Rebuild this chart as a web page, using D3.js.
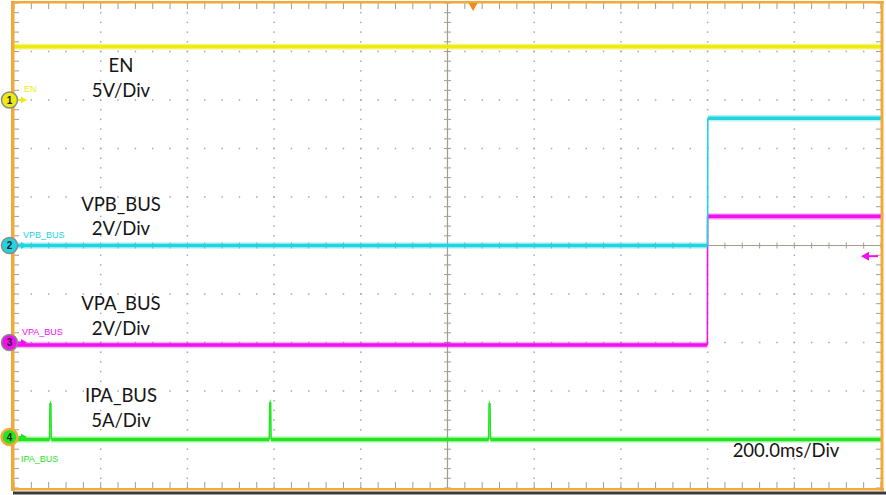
<!DOCTYPE html>
<html lang="en">
<head>
<meta charset="utf-8">
<script src="https://d3js.org/d3.v7.min.js"></script>
<style>
  html, body { margin: 0; padding: 0; background: #fff; }
  svg { display: block; }
  .note { font-family: Lato, "Open Sans", sans-serif; font-size: 18.5px; fill: #151515; }
  .chlabel { font-family: "Liberation Sans", Arial, sans-serif; font-size: 9px; }
</style>
</head>
<body>
<div id="container"></div>
<script>
// --- scope settings / data ---
const timeDomain = [0, 2000];          // ms, 10 div x 200 ms
const divDomain = [-5, 5];             // vertical divisions
const channelNames = ["EN", "VPB_BUS", "VPA_BUS", "IPA_BUS"];
const channelScaleText = ["5V/Div", "2V/Div", "2V/Div", "5A/Div"];
const unitsPerDiv = [5, 2, 2, 5];
const channelOffsetDiv = [3, 0, -2, -3.95];
const channelColors = ["#ecec12", "#22d4e2", "#f010f0", "#22e622"];
const timebaseText = "200.0ms/Div";

// traces: time (ms) and value (V or A)
const enTime = [0, 2000];
const enValue = [5.5, 5.5];
const vpbTime = [0, 1600, 1600.5, 2000];
const vpbValue = [0, 0, 5.25, 5.25];
const vpaTime = [0, 1599.5, 1600, 2000];
const vpaValue = [-0.1, -0.1, 5.2, 5.2];
const ipaTime = [0, 82, 83, 85, 86, 589, 590, 592, 593, 1095, 1096, 1098, 1099, 2000];
const ipaValue = [-0.25, -0.25, 3.5, 3.5, -0.25, -0.25, 3.6, 3.6, -0.25, -0.25, 3.5, 3.5, -0.25, -0.25];
const triggerTime = 1059;              // ms, orange marker at top
const triggerLevelDiv = -0.22;         // right edge arrow

const width = 886, height = 495;
const plotLeft = 14, plotRight = 881, plotTop = 3, plotBottom = 488;

const svg = d3.select("#container").append("svg")
    .attr("width", width).attr("height", height);

const x = d3.scaleLinear().domain(timeDomain).range([plotLeft, plotRight]);
const yDiv = d3.scaleLinear().domain(divDomain).range([plotBottom, plotTop]);

const majorX = d3.range(0, 2001, 200);
const minorX = d3.range(0, 2000.1, 40);
const majorY = d3.range(-5, 5.01, 1);
const minorY = d3.range(-5, 5.001, 0.2);
const gridCol = "#a8a8a8";
const axisCol = "#a39c8c";

// dotted grid
const grid = svg.append("g");
majorX.slice(1, -1).filter(t => t !== 1000).forEach(t => {
    grid.selectAll(null).data(minorY).enter().append("rect")
        .attr("x", x(t) - 0.75).attr("y", d => yDiv(d) - 0.75)
        .attr("width", 1.5).attr("height", 1.5).attr("fill", gridCol);
});
majorY.slice(1, -1).filter(d => Math.abs(d) > 1e-9).forEach(v => {
    grid.selectAll(null).data(minorX).enter().append("rect")
        .attr("x", d => x(d) - 0.75).attr("y", yDiv(v) - 0.75)
        .attr("width", 1.5).attr("height", 1.5).attr("fill", gridCol);
});

// center axes with ticks
grid.append("line").attr("x1", x(1000)).attr("x2", x(1000)).attr("y1", plotTop).attr("y2", plotBottom)
    .attr("stroke", axisCol).attr("stroke-width", 1.2);
grid.append("line").attr("x1", plotLeft).attr("x2", plotRight).attr("y1", yDiv(0)).attr("y2", yDiv(0))
    .attr("stroke", axisCol).attr("stroke-width", 1.2);
grid.selectAll(null).data(minorY).enter().append("line")
    .attr("x1", x(1000) - 3.5).attr("x2", x(1000) + 3.5)
    .attr("y1", d => yDiv(d)).attr("y2", d => yDiv(d))
    .attr("stroke", axisCol).attr("stroke-width", 1);
grid.selectAll(null).data(minorX).enter().append("line")
    .attr("y1", yDiv(0) - 3).attr("y2", yDiv(0) + 3)
    .attr("x1", d => x(d)).attr("x2", d => x(d))
    .attr("stroke", axisCol).attr("stroke-width", 1);

// edge ticks
grid.selectAll(null).data(minorX).enter().append("line")
    .attr("x1", d => x(d)).attr("x2", d => x(d)).attr("y1", plotTop).attr("y2", plotTop + 6)
    .attr("stroke", axisCol).attr("stroke-width", 1);
grid.selectAll(null).data(minorX).enter().append("line")
    .attr("x1", d => x(d)).attr("x2", d => x(d)).attr("y1", plotBottom).attr("y2", plotBottom - 6)
    .attr("stroke", axisCol).attr("stroke-width", 1);
grid.selectAll(null).data(minorY).enter().append("line")
    .attr("x1", plotLeft).attr("x2", plotLeft + 5).attr("y1", d => yDiv(d)).attr("y2", d => yDiv(d))
    .attr("stroke", axisCol).attr("stroke-width", 1);
grid.selectAll(null).data(minorY).enter().append("line")
    .attr("x1", plotRight).attr("x2", plotRight - 5).attr("y1", d => yDiv(d)).attr("y2", d => yDiv(d))
    .attr("stroke", axisCol).attr("stroke-width", 1);

// traces
const traces = [
    {t: enTime, v: enValue, ch: 0},
    {t: ipaTime, v: ipaValue, ch: 3},
    {t: vpaTime, v: vpaValue, ch: 2},
    {t: vpbTime, v: vpbValue, ch: 1}
];
const traceG = svg.append("g");
traces.forEach(tr => {
    const pts = tr.t.map((t, i) => [x(t), yDiv(channelOffsetDiv[tr.ch] + tr.v[i] / unitsPerDiv[tr.ch])]);
    const segs = d3.pairs(pts);
    const col = channelColors[tr.ch];
    // fuzzy halo on flat parts
    traceG.selectAll(null).data(segs.filter(s => Math.abs(s[1][1] - s[0][1]) < 2)).enter().append("line")
        .attr("x1", d => d[0][0]).attr("y1", d => d[0][1]).attr("x2", d => d[1][0]).attr("y2", d => d[1][1])
        .attr("stroke", col).attr("stroke-width", 6.5).attr("stroke-opacity", 0.3);
    traceG.selectAll(null).data(segs).enter().append("line")
        .attr("x1", d => d[0][0]).attr("y1", d => d[0][1]).attr("x2", d => d[1][0]).attr("y2", d => d[1][1])
        .attr("stroke", col)
        .attr("stroke-width", d => Math.abs(d[1][1] - d[0][1]) < 2 ? 3.6 : 1.6);
});

// frame
const orange = "#f5a83a";
svg.append("rect").attr("x", 11).attr("y", 1).attr("width", 3.5).attr("height", 490).attr("fill", orange);
svg.append("rect").attr("x", 11).attr("y", 1).attr("width", 873).attr("height", 2.5).attr("fill", orange);
svg.append("rect").attr("x", 880.5).attr("y", 1).attr("width", 3).attr("height", 490).attr("fill", orange);
svg.append("rect").attr("x", 11).attr("y", 488).attr("width", 873).attr("height", 2.5).attr("fill", orange);
svg.append("rect").attr("x", 13).attr("y", 491.5).attr("width", 873).attr("height", 3).attr("fill", "#3a3a3a");

// trigger markers
const tx = x(triggerTime);
svg.append("path").attr("d", `M${tx - 4.5},3 L${tx + 4.5},3 L${tx},11 Z`).attr("fill", "#f28a1e");
const ty = yDiv(triggerLevelDiv);
svg.append("line").attr("x1", plotRight - 3).attr("x2", plotRight - 14).attr("y1", ty).attr("y2", ty)
    .attr("stroke", channelColors[2]).attr("stroke-width", 2);
svg.append("path").attr("d", `M${plotRight - 20},${ty} L${plotRight - 12},${ty - 4.5} L${plotRight - 12},${ty + 4.5} Z`)
    .attr("fill", channelColors[2]);

// channel markers
const markerG = svg.append("g");
channelNames.forEach((name, i) => {
    const my = yDiv(channelOffsetDiv[i]);
    const col = channelColors[i];
    markerG.append("line").attr("x1", 16).attr("x2", 22).attr("y1", my).attr("y2", my)
        .attr("stroke", col).attr("stroke-width", 2);
    markerG.append("path").attr("d", `M27,${my} L21,${my - 3.5} L21,${my + 3.5} Z`).attr("fill", col);
    markerG.append("circle").attr("cx", 9.5).attr("cy", my).attr("r", 8)
        .attr("fill", col)
        .attr("stroke", i === 3 ? orange : "#8a8a8a")
        .attr("stroke-width", i === 3 ? 2.5 : 1.5);
    markerG.append("text").attr("x", 9.5).attr("y", my + 3.5)
        .attr("text-anchor", "middle")
        .style("font-family", "Liberation Sans, Arial, sans-serif")
        .style("font-size", "10px").style("font-weight", "bold").style("fill", "#222")
        .text(i + 1);
    markerG.append("text").attr("class", "chlabel")
        .attr("x", 24 - i).attr("y", i === 3 ? my + 25 : my - 8)
        .style("fill", col)
        .text(name);
});

// annotations
const noteY = [[72, 97], [211, 235], [310, 335], [402, 427]];
channelNames.forEach((name, i) => {
    svg.append("text").attr("class", "note").attr("x", 121).attr("y", noteY[i][0])
        .attr("text-anchor", "middle").text(name);
    svg.append("text").attr("class", "note").attr("x", 121).attr("y", noteY[i][1])
        .attr("text-anchor", "middle").text(channelScaleText[i]);
});
svg.append("text").attr("class", "note").attr("x", 786).attr("y", 457)
    .attr("text-anchor", "middle").text(timebaseText);
</script>
</body>
</html>
